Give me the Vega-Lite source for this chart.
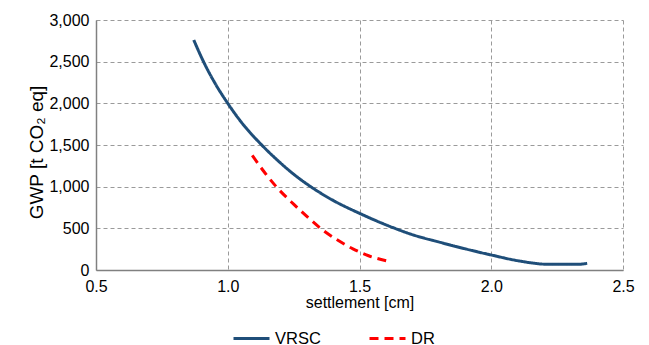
{
  "$schema": "https://vega.github.io/schema/vega-lite/v6.json",
  "autosize": {"type": "none"},
  "padding": {"left": 96, "top": 20, "right": 26, "bottom": 75},
  "width": 527,
  "height": 250,
  "background": "white",
  "config": {
    "font": "Liberation Sans",
    "view": {"stroke": null},
    "axis": {
      "labelFont": "Liberation Sans",
      "titleFont": "Liberation Sans",
      "labelFontSize": 16,
      "titleFontSize": 16,
      "titleFontWeight": "normal",
      "labelColor": "#000000",
      "titleColor": "#000000",
      "domainColor": "#808080",
      "domainWidth": 1.5,
      "ticks": false,
      "labelFlush": false,
      "gridColor": "#9a9a9a",
      "gridDash": [4, 3],
      "gridWidth": 1
    }
  },
  "data": {
    "values": [
      {"series": "VRSC", "settlement": 0.871, "gwp": 2760},
      {"series": "VRSC", "settlement": 0.908, "gwp": 2500},
      {"series": "VRSC", "settlement": 0.95, "gwp": 2250},
      {"series": "VRSC", "settlement": 1.0, "gwp": 2000},
      {"series": "VRSC", "settlement": 1.05, "gwp": 1780},
      {"series": "VRSC", "settlement": 1.129, "gwp": 1500},
      {"series": "VRSC", "settlement": 1.2, "gwp": 1285},
      {"series": "VRSC", "settlement": 1.25, "gwp": 1150},
      {"series": "VRSC", "settlement": 1.315, "gwp": 1000},
      {"series": "VRSC", "settlement": 1.4, "gwp": 835},
      {"series": "VRSC", "settlement": 1.5, "gwp": 680},
      {"series": "VRSC", "settlement": 1.63, "gwp": 505},
      {"series": "VRSC", "settlement": 1.7, "gwp": 425},
      {"series": "VRSC", "settlement": 1.8, "gwp": 337},
      {"series": "VRSC", "settlement": 1.9, "gwp": 255},
      {"series": "VRSC", "settlement": 2.0, "gwp": 180},
      {"series": "VRSC", "settlement": 2.107, "gwp": 108},
      {"series": "VRSC", "settlement": 2.22, "gwp": 68},
      {"series": "VRSC", "settlement": 2.33, "gwp": 68},
      {"series": "VRSC", "settlement": 2.364, "gwp": 80},
      {"series": "DR", "settlement": 1.093, "gwp": 1375},
      {"series": "DR", "settlement": 1.14, "gwp": 1170},
      {"series": "DR", "settlement": 1.184, "gwp": 1000},
      {"series": "DR", "settlement": 1.25, "gwp": 790},
      {"series": "DR", "settlement": 1.31, "gwp": 615},
      {"series": "DR", "settlement": 1.36, "gwp": 480},
      {"series": "DR", "settlement": 1.413, "gwp": 366},
      {"series": "DR", "settlement": 1.475, "gwp": 254},
      {"series": "DR", "settlement": 1.532, "gwp": 174},
      {"series": "DR", "settlement": 1.603, "gwp": 110}
    ]
  },
  "mark": {"type": "line", "strokeWidth": 3, "interpolate": "monotone", "strokeCap": "butt"},
  "encoding": {
    "x": {
      "field": "settlement",
      "type": "quantitative",
      "scale": {"domain": [0.5, 2.5], "nice": false, "zero": false},
      "axis": {"values": [0.5, 1.0, 1.5, 2.0, 2.5], "format": ".1f", "title": "settlement [cm]", "labelPadding": 8, "titlePadding": 0}
    },
    "y": {
      "field": "gwp",
      "type": "quantitative",
      "scale": {"domain": [0, 3000], "nice": false},
      "axis": {"values": [0, 500, 1000, 1500, 2000, 2500, 3000], "format": ",.0f", "title": "GWP [t CO₂ eq]", "titleFontSize": 19, "titleY": 132, "labelPadding": 7, "titlePadding": 2}
    },
    "color": {
      "field": "series",
      "type": "nominal",
      "scale": {"domain": ["VRSC", "DR"], "range": ["#1f4e79", "#ff0000"]},
      "legend": {
        "title": null,
        "orient": "none",
        "legendX": 136,
        "legendY": 299,
        "direction": "horizontal",
        "symbolType": "stroke",
        "symbolSize": 1296,
        "symbolStrokeWidth": 3,
        "labelFontSize": 16.5,
        "labelFont": "Liberation Sans",
        "labelColor": "#000000",
        "labelOffset": 4,
        "columnPadding": 42
      }
    },
    "strokeDash": {
      "field": "series",
      "type": "nominal",
      "scale": {"domain": ["VRSC", "DR"], "range": [[1, 0], [9, 6]]},
      "legend": null
    }
  }
}
